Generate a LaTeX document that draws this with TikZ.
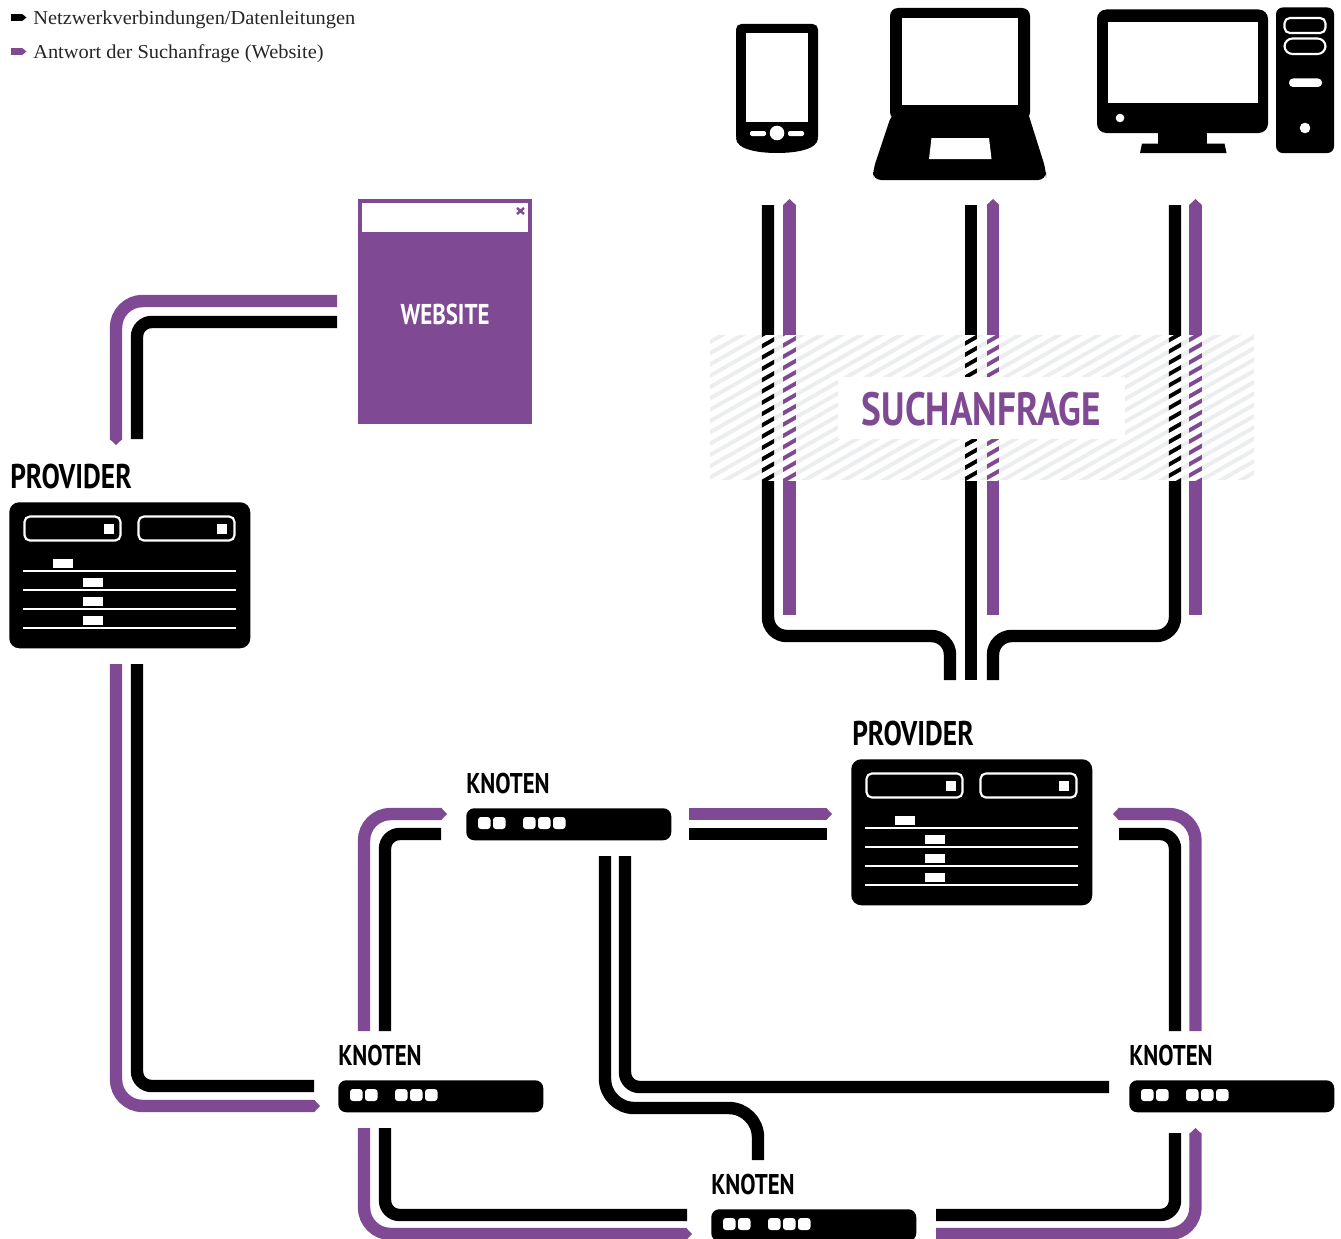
\documentclass[tikz,border=0pt]{standalone}
\usepackage{fontspec}
\usetikzlibrary{arrows.meta}
\setmainfont[FakeStretch=1.035]{Liberation Serif}
\newfontfamily\labelfont[FakeStretch=0.8]{PT Sans}
\definecolor{sitepurple}{HTML}{7F4A93}
\definecolor{hatchgrey}{HTML}{ECEDEE}

\tikzset{
  datalink/.style={draw=black, line width=9.3pt, line cap=butt},
  replylink/.style={draw=sitepurple, line width=9.3pt, line cap=butt},
  replytip/.style={replylink, -{Triangle[width=9.3pt,length=4.5pt]}},
  largebend/.style={rounded corners=20pt},
  smallbend/.style={rounded corners=11pt},
  knotenbox/.style={fill=black, rounded corners=6pt, anchor=north west, inner sep=0pt, minimum width=153.75pt, minimum height=24pt},
  providerbox/.style={fill=black, rounded corners=7.5pt, anchor=north west, inner sep=0pt, minimum width=180.75pt, minimum height=109.5pt},
  tagtext/.style={font=\labelfont\bfseries\fontsize{21.4pt}{24pt}\selectfont, anchor=base west, inner sep=0pt},
  legendtext/.style={font=\fontsize{14.8pt}{17pt}\selectfont, text=black!85, anchor=base west, inner sep=0pt},
  slotframe/.style={draw=white, line width=1.6pt, rounded corners=4pt},
}

\newcommand{\knotenbox}[3]{%
  \begin{scope}[shift={(#2,#3)}]
    \node[tagtext] (#1label) at (0,-15) {KNOTEN};
    \node[knotenbox] (#1) at (0,0) {};
    \foreach \dotx in {12,27,57,72,87}
      \fill[white, rounded corners=2.2pt] (\dotx,9) rectangle ++(12.5,12);
  \end{scope}}

\newcommand{\providerbox}[3]{%
  \begin{scope}[shift={(#2,#3)}]
    \node[tagtext, font=\labelfont\bfseries\fontsize{25.7pt}{28pt}\selectfont] (#1label) at (1,-13.5) {PROVIDER};
    \node[providerbox] (#1) at (0,0) {};
    \draw[slotframe] (15.5,14.5) rectangle (111.5,38.5);
    \draw[slotframe] (129.5,14.5) rectangle (225.5,38.5);
    \fill[white] (95,21.5) rectangle ++(10,10);
    \fill[white] (208,21.5) rectangle ++(10,10);
    \foreach \ruley in {69,88,107,126}
      \draw[white, line width=1.5pt] (14,\ruley) -- (227,\ruley);
    \fill[white] (44,57) rectangle ++(20,9);
    \foreach \marky in {76,95,114}
      \fill[white] (74,\marky) rectangle ++(20,9);
  \end{scope}}

\begin{document}
\begin{tikzpicture}[x=0.75pt,y=0.75pt,yscale=-1,xscale=1]
\useasboundingbox (0,0) rectangle (1341,1238);

% legend
\coordinate (legendA) at (11,17.5);
\coordinate (legendAend) at (26.5,17.5);
\coordinate (legendB) at (11,51.5);
\coordinate (legendBend) at (26.5,51.5);
\draw[datalink, line width=5.4pt, -{Triangle[width=5.4pt,length=3.5pt]}] (legendA) -- (legendAend);
\draw[replylink, line width=5.4pt, -{Triangle[width=5.4pt,length=3.5pt]}] (legendB) -- (legendBend);
\node[legendtext] (legendnet) at (33,24.5) {Netzwerkverbindungen/Datenleitungen};
\node[legendtext] (legendreply) at (33,58.5) {Antwort der Suchanfrage (Website)};

% phone
\fill[rounded corners=4pt] (736,142) -- (736,24) -- (818,24) -- (818,142) -- cycle;
\fill (736,138) .. controls (736,150) and (760,153) .. (777,153) .. controls (794,153) and (818,150) .. (818,138) -- cycle;
\fill[white] (746,33) rectangle (808,122);
\fill[white] (777,133) circle (7.3);
\fill[white, rounded corners=1.5pt] (750,131) rectangle (766,136);
\fill[white, rounded corners=1.5pt] (788,131) rectangle (804,136);

% laptop
\fill[rounded corners=6pt] (890,120) -- (890,8) -- (1030,8) -- (1030,120) -- cycle;
\fill (892,113) -- (1028,113) [rounded corners=6pt] -- (1046,170) -- (1046,180) -- (873,180) -- (873,170) -- cycle;
\fill[white] (902,18) rectangle (1018,105);
\fill[white] (931.5,138) -- (989,138) -- (991.5,159) -- (929,159) -- cycle;

% desktop
\fill[rounded corners=7pt] (1097,9.5) rectangle (1268,133);
\fill[white] (1108,22) rectangle (1257.5,103);
\fill[white] (1120,118) circle (4.3);
\fill (1158,130) rectangle (1207,145);
\fill (1142,143.5) -- (1224.5,143.5) -- (1226.5,153) -- (1140,153) -- cycle;
\fill[rounded corners=5pt] (1276,7.5) rectangle (1334,153);
\draw[slotframe] (1284.5,18) rectangle (1325.5,33);
\draw[slotframe, rounded corners=6pt] (1284.5,38.5) rectangle (1325.5,54);
\fill[white, rounded corners=3pt] (1289,78.5) rectangle (1322,87);
\fill[white] (1305,128) circle (5.3);

% hatch band
\fill[hatchgrey] (710,335) rectangle (1254,480);

% lines from the devices
\coordinate (phonedata) at (768,205);
\coordinate (phonereply) at (789.5,199);
\coordinate (phonereplyend) at (789.5,615);
\coordinate (laptopdata) at (971,205);
\coordinate (laptopreply) at (993,199);
\coordinate (laptopreplyend) at (993,615);
\coordinate (desktopdata) at (1175,205);
\coordinate (desktopreply) at (1195.5,199);
\coordinate (desktopreplyend) at (1195.5,615);
\coordinate (phonebend) at (860,636);
\coordinate (desktopbend) at (1085,636);
\coordinate (inleft) at (950,680);
\coordinate (inmid) at (971,680);
\coordinate (inright) at (993,680);
\draw[datalink, smallbend, rounded corners=14pt] (phonedata) |- (phonebend) -| (inleft);
\draw[datalink] (laptopdata) -- (inmid);
\draw[datalink, smallbend, rounded corners=14pt] (desktopdata) |- (desktopbend) -| (inright);
\draw[replytip] (phonereplyend) -- (phonereply);
\draw[replytip] (laptopreplyend) -- (laptopreply);
\draw[replytip] (desktopreplyend) -- (desktopreply);

% white slashes over band and lines
\begin{scope}
  \clip (710,335) rectangle (1254,480);
  \foreach \k in {-5,...,37}
    \draw[white, line width=4.2pt] (700,348.4+11.3*\k+38.8) -- (1264,348.4+11.3*\k-282.7);
\end{scope}

\node[fill=white, minimum width=215.25pt, minimum height=46.5pt, inner sep=0pt] (suchbox) at (981.5,408) {};
\node[text=sitepurple, font=\labelfont\bfseries\fontsize{35pt}{38pt}\selectfont, inner sep=0pt] (suchanfrage) at (981.5,409.5) {SUCHANFRAGE};

% website
\node[fill=sitepurple, anchor=north west, inner sep=0pt, minimum width=130.5pt, minimum height=168.75pt] (website) at (358,199) {};
\fill[white] (362,203) rectangle (528,232);
\draw[sitepurple, line width=1.8pt] (517,208) -- (524,214) (524,208) -- (517,214);
\node[text=white, font=\labelfont\bfseries\fontsize{21.5pt}{24pt}\selectfont, inner sep=0pt] (websitelabel) at (445,314) {WEBSITE};

% boxes
\providerbox{provider1}{9}{502}
\providerbox{provider2}{851}{759}
\knotenbox{knoten1}{466}{808}
\knotenbox{knoten2}{338}{1080}
\knotenbox{knoten3}{1129}{1080}
\knotenbox{knoten4}{711}{1209}

% website to provider1
\coordinate (webreply) at (337,301);
\coordinate (webdata) at (337,322);
\coordinate (provreplyin) at (116,445);
\coordinate (provdatain) at (137,439);
\draw[replytip, largebend] (webreply) -| (provreplyin);
\draw[datalink, smallbend] (webdata) -| (provdatain);

% provider1 to knoten2
\coordinate (provreplyout) at (116,664);
\coordinate (provdataout) at (137,664);
\coordinate (k2replyleft) at (320,1106);
\coordinate (k2dataleft) at (314,1086);
\draw[replytip, largebend] (provreplyout) |- (k2replyleft);
\draw[datalink, smallbend] (provdataout) |- (k2dataleft);

% knoten1 to provider2
\coordinate (k1replyright) at (689,814);
\coordinate (k1dataright) at (689,834);
\coordinate (prov2replyleft) at (832,814);
\coordinate (prov2dataleft) at (827,834);
\draw[replytip] (k1replyright) -- (prov2replyleft);
\draw[datalink] (k1dataright) -- (prov2dataleft);

% knoten2 to knoten1
\coordinate (k2replytop) at (364,1031);
\coordinate (k2datatop) at (385,1031);
\coordinate (k1replyleft) at (447,814);
\coordinate (k1dataleft) at (441,834);
\draw[replytip, largebend] (k2replytop) |- (k1replyleft);
\draw[datalink, smallbend] (k2datatop) |- (k1dataleft);

% knoten3 to provider2
\coordinate (k3replytop) at (1195.5,1031);
\coordinate (k3datatop) at (1175,1031);
\coordinate (prov2replyright) at (1113,814);
\coordinate (prov2dataright) at (1119,834);
\draw[replytip, largebend] (k3replytop) |- (prov2replyright);
\draw[datalink, smallbend] (k3datatop) |- (prov2dataright);

% knoten1 to knoten3 and knoten4
\coordinate (k1downA) at (605,856);
\coordinate (k1downB) at (625,856);
\coordinate (k3dataleft) at (1109,1087);
\coordinate (k4bend) at (680,1108);
\coordinate (k4datatop) at (758,1160);
\draw[datalink, smallbend] (k1downB) |- (k3dataleft);
\draw[datalink, rounded corners=22pt] (k1downA) |- (k4bend) -| (k4datatop);

% knoten2 to knoten4
\coordinate (k2replydown) at (364,1128);
\coordinate (k2datadown) at (385,1128);
\coordinate (k4replyleft) at (692,1234);
\coordinate (k4dataleft) at (687,1215);
\draw[replytip, largebend] (k2replydown) |- (k4replyleft);
\draw[datalink, smallbend] (k2datadown) |- (k4dataleft);

% knoten4 to knoten3
\coordinate (k4replyright) at (936,1234);
\coordinate (k4dataright) at (936,1215);
\coordinate (k3replydown) at (1195.5,1128);
\coordinate (k3datadown) at (1175,1133);
\draw[replytip, largebend] (k4replyright) -| (k3replydown);
\draw[datalink, smallbend] (k4dataright) -| (k3datadown);

\end{tikzpicture}
\end{document}
